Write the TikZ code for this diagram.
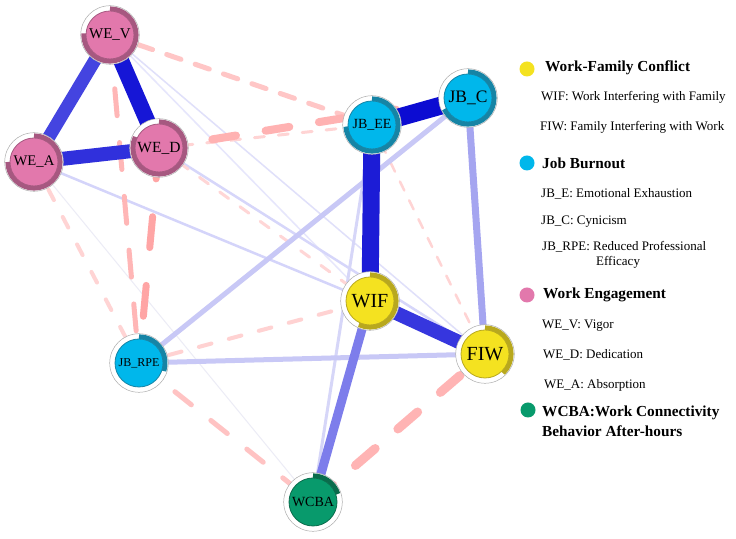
\documentclass[tikz,border=0pt]{standalone}
\usepackage{fontspec}
\setmainfont{Liberation Serif}
\usetikzlibrary{calc}
\pgfdeclarelayer{background}
\pgfdeclarelayer{canvas}
\pgfsetlayers{canvas,background,main}

\definecolor{wepink}{RGB}{226,120,172}
\definecolor{wering}{RGB}{166,88,128}
\definecolor{jbblue}{RGB}{0,183,235}
\definecolor{jbring}{RGB}{22,132,165}
\definecolor{wfcyel}{RGB}{244,226,32}
\definecolor{wfcring}{RGB}{184,168,30}
\definecolor{wcgreen}{RGB}{8,154,108}
\definecolor{wcring}{RGB}{10,108,76}

\newcommand\netnode[8]{%
  \fill[white] (#2,#3) circle (29.3);
  \draw[gray!65, line width=0.5bp] (#2,#3) circle (29.3);
  \draw[#5, line width=4.6bp] ([shift={(90:26.3)}]#2,#3) arc[start angle=90, end angle={90-360*#6}, radius=26.3];
  \node[netcirc, fill=#4, draw=#5] (#1) at (#2,#3) {\fontsize{#8}{#8}\selectfont #7};
}

\tikzset{
  netcirc/.style={circle, minimum size=48bp, inner sep=0pt, line width=0.8bp},
  posedge/.style={line cap=butt},
  negedge/.style={line cap=round},
  legtext/.style={anchor=west, inner sep=0pt, font=\fontsize{13bp}{13bp}\selectfont},
  leghead/.style={anchor=west, inner sep=0pt, font=\fontsize{15.3bp}{15.3bp}\selectfont\bfseries},
  legdot/.style={circle, minimum size=15bp, inner sep=0pt},
}

\newcommand\posline[4]{\draw[posedge, line width=#3bp, color={#4}] (#1.center) -- (#2.center);}
\newcommand\negline[6]{\draw[negedge, line width=#3bp, color={#4}, dash pattern=on #5bp off #6bp] (#1.center) -- (#2.center);}

\begin{document}
\begin{tikzpicture}[x=1bp,y=1bp]
\begin{pgfonlayer}{canvas}
\fill[white] (0,0) rectangle (736,539);
\end{pgfonlayer}
\useasboundingbox (0,0) rectangle (736,539);

% nodes
\netnode{WEV}{110}{504}{wepink}{wering}{0.76}{WE\_V}{15bp}
\netnode{WEA}{34}{377}{wepink}{wering}{0.75}{WE\_A}{14.7bp}
\netnode{WED}{159}{391}{wepink}{wering}{0.82}{WE\_D}{15.5bp}
\netnode{JBEE}{372}{414}{jbblue}{jbring}{0.74}{JB\_EE}{14bp}
\netnode{JBC}{468}{441}{jbblue}{jbring}{0.68}{JB\_C}{17.5bp}
\netnode{WIF}{370}{238}{wfcyel}{wfcring}{0.57}{WIF}{20bp}
\netnode{FIW}{485}{185}{wfcyel}{wfcring}{0.38}{FIW}{20bp}
\netnode{JBRPE}{139}{176}{jbblue}{jbring}{0.30}{JB\_RPE}{12bp}
\netnode{WCBA}{313}{37}{wcgreen}{wcring}{0.20}{WCBA}{14bp}

\begin{pgfonlayer}{background}
% faint positive edges
\posline{WEA}{WCBA}{1}{{rgb,255:red,236;green,236;blue,246}}
\posline{WEV}{WIF}{1.5}{{rgb,255:red,230;green,230;blue,252}}
\posline{WEV}{FIW}{1.5}{{rgb,255:red,224;green,224;blue,250}}
\posline{WEA}{WIF}{2.5}{{rgb,255:red,212;green,212;blue,250}}
\posline{WED}{FIW}{2.5}{{rgb,255:red,214;green,214;blue,250}}
\posline{JBEE}{WCBA}{3}{{rgb,255:red,214;green,214;blue,248}}
% negative edges
\negline{WEA}{JBRPE}{4}{{rgb,255:red,255;green,212;blue,212}}{12}{19}
\negline{JBRPE}{WIF}{4}{{rgb,255:red,255;green,210;blue,210}}{13}{18}
\negline{JBEE}{FIW}{2.5}{{rgb,255:red,255;green,212;blue,212}}{10}{11}
\negline{WED}{WIF}{3}{{rgb,255:red,255;green,214;blue,214}}{11}{14}
\negline{WED}{JBEE}{3}{{rgb,255:red,255;green,212;blue,212}}{10}{14}
\negline{WEV}{JBEE}{5}{{rgb,255:red,255;green,198;blue,198}}{15}{15}
\negline{WEV}{JBRPE}{5}{{rgb,255:red,255;green,182;blue,182}}{27}{27}
\negline{WED}{JBRPE}{7}{{rgb,255:red,255;green,165;blue,165}}{31}{38}
\negline{WED}{JBC}{8}{{rgb,255:red,255;green,178;blue,178}}{24}{30}
\negline{JBRPE}{WCBA}{5}{{rgb,255:red,255;green,195;blue,195}}{21}{25}
\negline{WCBA}{FIW}{9}{{rgb,255:red,255;green,180;blue,180}}{26}{30}
% positive edges
\posline{JBRPE}{FIW}{5}{{rgb,255:red,200;green,200;blue,246}}
\posline{JBRPE}{JBC}{5}{{rgb,255:red,200;green,200;blue,246}}
\posline{JBC}{FIW}{7}{{rgb,255:red,165;green,165;blue,240}}
\posline{WIF}{WCBA}{9}{{rgb,255:red,125;green,125;blue,235}}
\posline{WEV}{WEA}{13}{{rgb,255:red,68;green,68;blue,224}}
\posline{WEA}{WED}{14}{{rgb,255:red,48;green,48;blue,220}}
\posline{WEV}{WED}{16}{{rgb,255:red,22;green,22;blue,214}}
\posline{WIF}{FIW}{14}{{rgb,255:red,54;green,54;blue,222}}
\posline{JBEE}{WIF}{17}{{rgb,255:red,28;green,28;blue,214}}
\posline{JBEE}{JBC}{18}{{rgb,255:red,12;green,12;blue,210}}
\end{pgfonlayer}

% legend
\node[legdot, fill=wfcyel] (d1) at (527,470) {};
\node[leghead] (h1) at (545,471) {Work-Family Conflict};
\node[legtext] (t1) at (541,442) {WIF: Work Interfering with Family};
\node[legtext] (t2) at (540,412) {FIW: Family Interfering with Work};
\node[legdot, fill=jbblue] (d2) at (527,376) {};
\node[leghead] (h2) at (542,376) {Job Burnout};
\node[legtext] (t3) at (541,345) {JB\_E: Emotional Exhaustion};
\node[legtext] (t4) at (541,317) {JB\_C: Cynicism};
\node[legtext] (t5) at (542,292) {JB\_RPE: Reduced Professional};
\node[legtext] (t6) at (596,277) {Efficacy};
\node[legdot, fill=wepink] (d3) at (527,244) {};
\node[leghead] (h3) at (543,244) {Work Engagement};
\node[legtext] (t7) at (542,213) {WE\_V: Vigor};
\node[legtext] (t8) at (543,184) {WE\_D: Dedication};
\node[legtext] (t9) at (544,154) {WE\_A: Absorption};
\node[legdot, fill=wcgreen] (d4) at (528,129) {};
\node[leghead] (h4) at (542,126) {WCBA:Work Connectivity};
\node[leghead] (h5) at (542,108) {Behavior After-hours};
\end{tikzpicture}
\end{document}
